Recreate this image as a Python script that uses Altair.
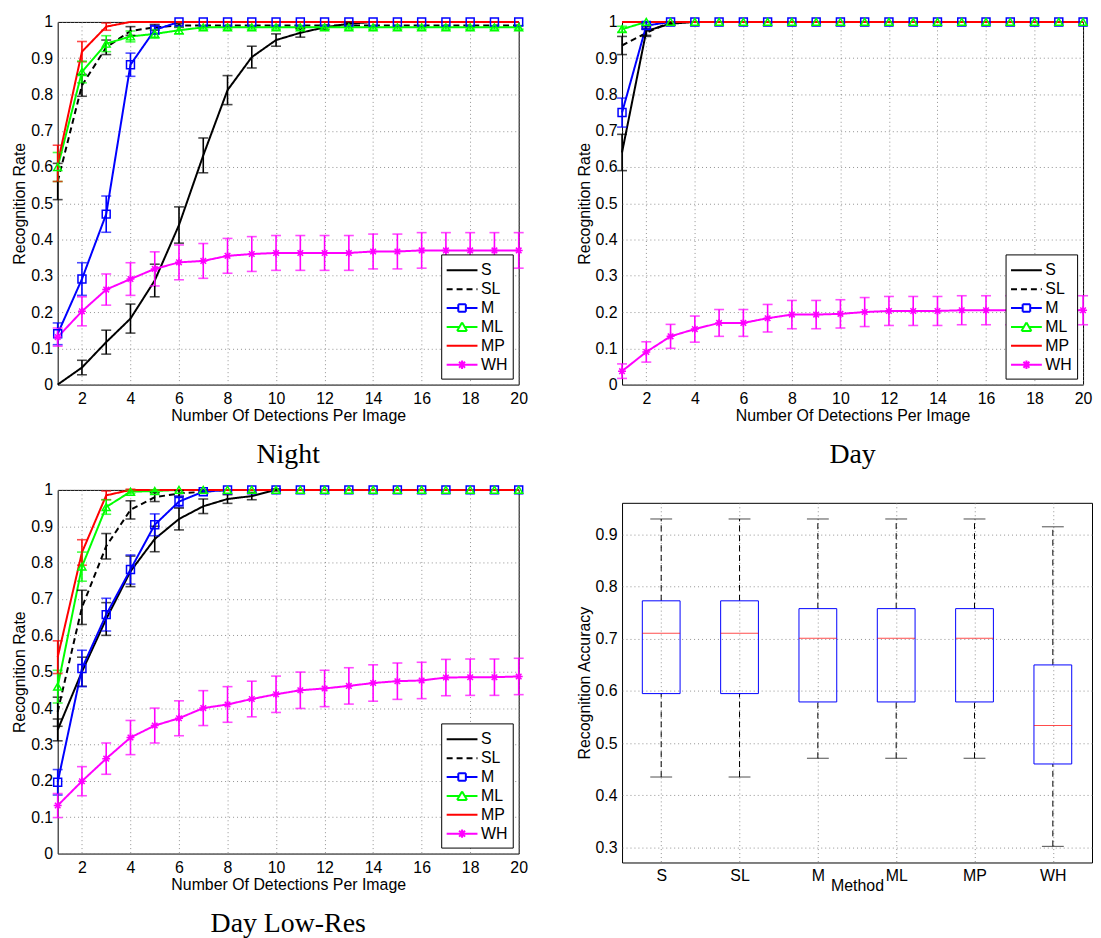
import altair as alt
import pandas as pd

X = list(range(1, 21))
METHODS = ["S", "SL", "M", "ML", "MP", "WH"]
COLORS = ["#000000", "#000000", "#0000ff", "#00ff00", "#ff0000", "#ff00ff"]
DASHES = [[1, 0], [6, 4], [1, 0], [1, 0], [1, 0], [1, 0]]
MARKED = ["M", "ML", "WH"]

# ---------------- Night ----------------
night_vals = {
    "S": [0.0, 0.047, 0.117, 0.182, 0.287, 0.44, 0.632, 0.812, 0.903, 0.95, 0.97, 0.985, 0.995, 1, 1, 1, 1, 1, 1, 1],
    "SL": [0.56, 0.825, 0.93, 0.975, 0.985, 0.99, 0.99, 0.99, 0.99, 0.99, 0.99, 0.99, 0.99, 0.99, 0.99, 0.99, 0.99, 0.99, 0.99, 0.99],
    "M": [0.14, 0.291, 0.47, 0.882, 0.978, 1, 1, 1, 1, 1, 1, 1, 1, 1, 1, 1, 1, 1, 1, 1],
    "ML": [0.6, 0.862, 0.94, 0.96, 0.967, 0.977, 0.985, 0.985, 0.985, 0.985, 0.985, 0.985, 0.985, 0.985, 0.985, 0.985, 0.985, 0.985, 0.985, 0.985],
    "MP": [0.61, 0.918, 0.987, 1, 1, 1, 1, 1, 1, 1, 1, 1, 1, 1, 1, 1, 1, 1, 1, 1],
    "WH": [0.131, 0.202, 0.262, 0.291, 0.319, 0.337, 0.341, 0.355, 0.36, 0.363, 0.363, 0.363, 0.363, 0.367, 0.367, 0.37, 0.37, 0.37, 0.37, 0.37],
}
night_errs = {
    "S": [0, 0.02, 0.033, 0.04, 0.045, 0.05, 0.048, 0.04, 0.03, 0.017, 0.012, 0.006, 0.004, 0, 0, 0, 0, 0, 0, 0],
    "SL": [0.05, 0.03, 0.02, 0.012, 0.008, 0.005, 0, 0, 0, 0, 0, 0, 0, 0, 0, 0, 0, 0, 0, 0],
    "M": [0.03, 0.045, 0.05, 0.032, 0.012, 0, 0, 0, 0, 0, 0, 0, 0, 0, 0, 0, 0, 0, 0, 0],
    "ML": [0.04, 0.03, 0.022, 0.015, 0.012, 0.01, 0.005, 0.005, 0.005, 0.005, 0.005, 0.005, 0.005, 0.005, 0.005, 0.005, 0.005, 0.005, 0.005, 0.005],
    "MP": [0.05, 0.028, 0.01, 0, 0, 0, 0, 0, 0, 0, 0, 0, 0, 0, 0, 0, 0, 0, 0, 0],
    "WH": [0.025, 0.04, 0.043, 0.045, 0.047, 0.048, 0.048, 0.048, 0.048, 0.048, 0.048, 0.048, 0.048, 0.048, 0.048, 0.049, 0.049, 0.049, 0.049, 0.049],
}

# ---------------- Day ----------------
day_vals = {
    "S": [0.64, 0.975, 0.995, 1, 1, 1, 1, 1, 1, 1, 1, 1, 1, 1, 1, 1, 1, 1, 1, 1],
    "SL": [0.935, 0.97, 1, 1, 1, 1, 1, 1, 1, 1, 1, 1, 1, 1, 1, 1, 1, 1, 1, 1],
    "M": [0.75, 0.99, 1, 1, 1, 1, 1, 1, 1, 1, 1, 1, 1, 1, 1, 1, 1, 1, 1, 1],
    "ML": [0.98, 1, 1, 1, 1, 1, 1, 1, 1, 1, 1, 1, 1, 1, 1, 1, 1, 1, 1, 1],
    "MP": [1, 1, 1, 1, 1, 1, 1, 1, 1, 1, 1, 1, 1, 1, 1, 1, 1, 1, 1, 1],
    "WH": [0.037, 0.09, 0.133, 0.153, 0.17, 0.17, 0.183, 0.193, 0.193, 0.195, 0.2, 0.203, 0.203, 0.203, 0.205, 0.205, 0.205, 0.205, 0.205, 0.205],
}
day_errs = {
    "S": [0.05, 0.012, 0.004, 0, 0, 0, 0, 0, 0, 0, 0, 0, 0, 0, 0, 0, 0, 0, 0, 0],
    "SL": [0.025, 0.01, 0, 0, 0, 0, 0, 0, 0, 0, 0, 0, 0, 0, 0, 0, 0, 0, 0, 0],
    "M": [0.04, 0.008, 0, 0, 0, 0, 0, 0, 0, 0, 0, 0, 0, 0, 0, 0, 0, 0, 0, 0],
    "ML": [0.008, 0, 0, 0, 0, 0, 0, 0, 0, 0, 0, 0, 0, 0, 0, 0, 0, 0, 0, 0],
    "MP": [0, 0, 0, 0, 0, 0, 0, 0, 0, 0, 0, 0, 0, 0, 0, 0, 0, 0, 0, 0],
    "WH": [0.02, 0.028, 0.033, 0.036, 0.037, 0.037, 0.038, 0.039, 0.039, 0.039, 0.04, 0.04, 0.04, 0.04, 0.04, 0.04, 0.04, 0.04, 0.04, 0.04],
}

# ---------------- Day Low-Res ----------------
low_vals = {
    "S": [0.34, 0.5, 0.645, 0.776, 0.865, 0.92, 0.955, 0.975, 0.983, 1, 1, 1, 1, 1, 1, 1, 1, 1, 1, 1],
    "SL": [0.39, 0.677, 0.845, 0.945, 0.98, 0.99, 0.995, 1, 1, 1, 1, 1, 1, 1, 1, 1, 1, 1, 1, 1],
    "M": [0.196, 0.509, 0.657, 0.781, 0.904, 0.968, 0.995, 1, 1, 1, 1, 1, 1, 1, 1, 1, 1, 1, 1, 1],
    "ML": [0.459, 0.789, 0.953, 0.995, 0.997, 1, 1, 1, 1, 1, 1, 1, 1, 1, 1, 1, 1, 1, 1, 1],
    "MP": [0.54, 0.828, 0.985, 1, 1, 1, 1, 1, 1, 1, 1, 1, 1, 1, 1, 1, 1, 1, 1, 1],
    "WH": [0.132, 0.199, 0.261, 0.319, 0.352, 0.372, 0.4, 0.41, 0.425, 0.438, 0.449, 0.454, 0.461, 0.469, 0.474, 0.476, 0.484, 0.485, 0.485, 0.487],
}
low_errs = {
    "S": [0.03, 0.04, 0.045, 0.042, 0.035, 0.03, 0.02, 0.012, 0.01, 0.003, 0, 0, 0, 0, 0, 0, 0, 0, 0, 0],
    "SL": [0.04, 0.047, 0.035, 0.025, 0.012, 0.008, 0.004, 0, 0, 0, 0, 0, 0, 0, 0, 0, 0, 0, 0, 0],
    "M": [0.035, 0.05, 0.045, 0.04, 0.03, 0.015, 0.005, 0, 0, 0, 0, 0, 0, 0, 0, 0, 0, 0, 0, 0],
    "ML": [0.045, 0.04, 0.02, 0.005, 0.003, 0, 0, 0, 0, 0, 0, 0, 0, 0, 0, 0, 0, 0, 0, 0],
    "MP": [0.045, 0.035, 0.012, 0.002, 0, 0, 0, 0, 0, 0, 0, 0, 0, 0, 0, 0, 0, 0, 0, 0],
    "WH": [0.033, 0.04, 0.043, 0.047, 0.048, 0.048, 0.048, 0.049, 0.049, 0.05, 0.05, 0.05, 0.05, 0.05, 0.05, 0.05, 0.05, 0.05, 0.05, 0.05],
}

# ---------------- Box plot ----------------
box_lo = [0.435, 0.435, 0.471, 0.471, 0.471, 0.302]
box_q1 = [0.595, 0.595, 0.579, 0.579, 0.579, 0.460]
box_med = [0.711, 0.711, 0.701, 0.701, 0.701, 0.534]
box_q3 = [0.773, 0.773, 0.758, 0.758, 0.758, 0.650]
box_hi = [0.930, 0.930, 0.930, 0.930, 0.930, 0.915]

Y_TICKS = [0, 0.1, 0.2, 0.3, 0.4, 0.5, 0.6, 0.7, 0.8, 0.9, 1]
X_TICKS = [2, 4, 6, 8, 10, 12, 14, 16, 18, 20]
BOX_TICKS = [0.3, 0.4, 0.5, 0.6, 0.7, 0.8, 0.9]

SANS = "Liberation Sans"
SERIF = "Liberation Serif"

STAR = "M0,-1V1M-1,0H1M-0.7,-0.7L0.7,0.7M-0.7,0.7L0.7,-0.7"
# legend glyphs: line with hollow marker, drawn as separate segments (no fillable area)
LEG_LINE = "M-1.55,0H1.55"
LEG_SQ = ("M-1.55,0H-0.38M0.38,0H1.55"
          "M-0.38,-0.38H0.38M0.38,-0.38V0.38M0.38,0.38H-0.38M-0.38,0.38V-0.38")
LEG_TRI = ("M-1.55,0H-0.27M0.27,0H1.55"
           "M0,-0.45L0.5,0.4M0.5,0.4H-0.5M-0.5,0.4L0,-0.45")
LEG_STAR = "M-1.55,0H1.55M0,-0.42V0.42M-0.3,-0.3L0.3,0.3M-0.3,0.3L0.3,-0.3"

shape_expr = (
    f"datum.value === 'M' ? '{LEG_SQ}' : datum.value === 'ML' ? '{LEG_TRI}' : "
    f"datum.value === 'WH' ? '{LEG_STAR}' : '{LEG_LINE}'"
)
dash_expr = "datum.value === 'SL' ? [6, 4] : [1, 0]"


def long_df(vals, errs):
    rows = []
    for m in METHODS:
        for x, v, e in zip(X, vals[m], errs[m]):
            rows.append({"x": x, "method": m, "rate": v, "lo": v - e, "hi": v + e, "err": e})
    return pd.DataFrame(rows)


color_scale = alt.Scale(domain=METHODS, range=COLORS)
dash_scale = alt.Scale(domain=METHODS, range=DASHES)


def line_panel(vals, errs, caption, w=464, h=365):
    df = long_df(vals, errs)
    xax = alt.Axis(title="Number Of Detections Per Image", values=X_TICKS, format="d",
                   labelFlush=False, labelPadding=6, titlePadding=1, grid=True)
    yax = alt.Axis(title="Recognition Rate", values=Y_TICKS, format="~g", labelPadding=5,
                   minExtent=26, maxExtent=26, titlePadding=4, grid=True)
    xs = alt.Scale(domain=[1, 20], nice=False, zero=False)
    ys = alt.Scale(domain=[0, 1], nice=False)
    legend = alt.Legend(
        title=None, orient="bottom-right", offset=6, strokeColor="black", fillColor="white",
        padding=5, labelFont=SANS, labelFontSize=16, labelColor="black", labelOffset=8,
        symbolSize=400, symbolStrokeWidth=2, symbolOffset=5, rowPadding=0,
        symbolType=alt.ExprRef(expr=shape_expr),
        symbolDash=alt.ExprRef(expr=dash_expr),
        symbolFillColor="white",
    )
    base = alt.Chart(df)
    lines = base.mark_line(strokeWidth=2).encode(
        x=alt.X("x:Q", scale=xs, axis=xax),
        y=alt.Y("rate:Q", scale=ys, axis=yax),
        color=alt.Color("method:N", scale=color_scale, legend=legend),
        strokeDash=alt.StrokeDash("method:N", scale=dash_scale, legend=None),
    )
    bars = base.transform_filter("datum.err > 0").mark_errorbar(
        ticks=True, size=10, thickness=1.6
    ).encode(
        x=alt.X("x:Q", scale=xs, axis=xax),
        y=alt.Y("lo:Q", scale=ys, axis=yax),
        y2="hi:Q",
        color=alt.Color("method:N", scale=color_scale, legend=None),
    )
    pts = base.transform_filter(
        alt.FieldOneOfPredicate(field="method", oneOf=MARKED)
    ).mark_point(filled=False, size=64, strokeWidth=1.5, opacity=1).encode(
        x=alt.X("x:Q", scale=xs, axis=xax),
        y=alt.Y("rate:Q", scale=ys, axis=yax),
        color=alt.Color("method:N", scale=color_scale, legend=None),
        shape=alt.Shape("method:N", scale=alt.Scale(domain=MARKED, range=["square", "triangle-up", STAR]), legend=None),
    )
    return alt.layer(lines, bars, pts).properties(
        width=w, height=h,
        title=alt.TitleParams(caption, orient="bottom", anchor="middle", font=SERIF, fontSize=28,
                              fontWeight="normal", color="black", offset=18),
    )


def box_panel(w=473, h=362):
    df = pd.DataFrame({"method": METHODS, "lo": box_lo, "q1": box_q1, "med": box_med,
                       "q3": box_q3, "hi": box_hi})
    xs = alt.Scale(type="point", padding=0.5, domain=METHODS)
    xax = alt.Axis(title="Method", labelAngle=0, labelPadding=5, titlePadding=-6, grid=True)
    ys = alt.Scale(domain=[0.271, 0.961], nice=False, zero=False)
    yax = alt.Axis(title="Recognition Accuracy", values=BOX_TICKS, format="~g", labelPadding=5,
                   minExtent=26, maxExtent=26, titlePadding=4, grid=True)
    X_ = alt.X("method:N", scale=xs, axis=xax, sort=METHODS)
    base = alt.Chart(df)
    w_lo = base.mark_rule(color="black", strokeDash=[6, 4], strokeWidth=1).encode(
        x=X_, y=alt.Y("lo:Q", scale=ys, axis=yax), y2="q1:Q")
    w_hi = base.mark_rule(color="black", strokeDash=[6, 4], strokeWidth=1).encode(
        x=X_, y=alt.Y("q3:Q", scale=ys, axis=yax), y2="hi:Q")
    c_lo = base.mark_tick(color="black", size=22, thickness=1).encode(
        x=X_, y=alt.Y("lo:Q", scale=ys, axis=yax))
    c_hi = base.mark_tick(color="black", size=22, thickness=1).encode(
        x=X_, y=alt.Y("hi:Q", scale=ys, axis=yax))
    box = base.mark_bar(size=38, fillOpacity=0, stroke="#0000ff", strokeWidth=1).encode(
        x=X_, y=alt.Y("q1:Q", scale=ys, axis=yax), y2="q3:Q")
    med = base.mark_tick(color="#ff0000", size=38, thickness=1).encode(
        x=X_, y=alt.Y("med:Q", scale=ys, axis=yax))
    return alt.layer(w_lo, w_hi, c_lo, c_hi, box, med).properties(width=w, height=h)


night = line_panel(night_vals, night_errs, "Night")
day = line_panel(day_vals, day_errs, "Day")
low = line_panel(low_vals, low_errs, "Day Low-Res", h=366)
boxp = box_panel()

col1 = alt.vconcat(night, low, spacing=11).resolve_scale(
    color="independent", strokeDash="independent", shape="independent").resolve_legend(color="independent")
col2 = alt.vconcat(day, boxp, spacing=32).resolve_scale(
    color="independent", strokeDash="independent", shape="independent").resolve_legend(color="independent")

chart = alt.hconcat(col1, col2, spacing=47).resolve_scale(
    color="independent", strokeDash="independent", shape="independent").resolve_legend(
    color="independent").properties(
    padding={"left": 3, "top": 2, "right": 0, "bottom": 0}
).configure_view(stroke="black", strokeWidth=1).configure_axis(
    labelFont=SANS, labelFontSize=16, labelColor="black",
    titleFont=SANS, titleFontSize=16, titleFontWeight="normal", titleColor="black",
    gridDash=[1, 3], gridColor="#777777", gridWidth=0.8, gridOpacity=1,
    domain=False, ticks=False,
)

chart.save("out.html", embed_options={"renderer": "svg", "actions": False})
